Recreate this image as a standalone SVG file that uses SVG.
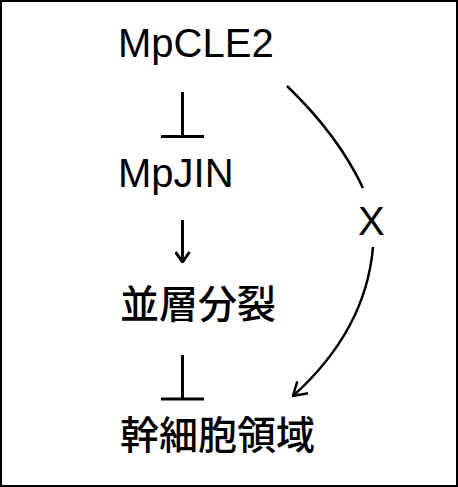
<svg xmlns="http://www.w3.org/2000/svg" width="458" height="487" viewBox="0 0 458 487">
<style>
.t{font-family:"Liberation Sans","Noto Sans CJK JP",sans-serif;font-size:40px;fill:#000}
.c{font-family:"Noto Sans CJK JP",sans-serif;font-size:39px;font-weight:500;fill:#000}
.l{stroke:#000;stroke-width:3;fill:none}
.cv{stroke:#000;stroke-width:2.5;fill:none}
</style>
<defs>
<marker id="ah" viewBox="0 0 12 16" refX="11" refY="8" markerWidth="12" markerHeight="16" markerUnits="userSpaceOnUse" orient="auto">
<path d="M1,1 L11,8 L1,15" fill="none" stroke="#000" stroke-width="3"/>
</marker>
<marker id="ah2" viewBox="0 0 16 20" refX="15" refY="10" markerWidth="16" markerHeight="20" markerUnits="userSpaceOnUse" orient="auto">
<path d="M2,2 L15,10 L2,18" fill="none" stroke="#000" stroke-width="2.5"/>
</marker>
</defs>
<rect x="1" y="1" width="456" height="485" fill="#fff" stroke="#000" stroke-width="2"/>
<g id="mpcle2"><text class="t" x="118" y="57">MpCLE2</text></g>
<g id="mpjin"><text class="t" x="118" y="187">MpJIN</text></g>
<g id="heisou"><text class="c" x="120" y="318">並層分裂</text></g>
<g id="kan"><text class="c" x="120" y="449">幹細胞領域</text></g>
<g id="x"><text class="t" x="358" y="235">X</text></g>
<g id="connectors">
<path class="l" d="M182.5,92 V136.5 M161,136.5 H204"/>
<path class="l" d="M182.5,220 V262" marker-end="url(#ah)"/>
<path class="l" d="M182.5,355 V399 M161,399 H204"/>
<path class="cv" d="M287,86 Q338,135 363,188"/>
<path class="cv" d="M373,247 Q366,330 293,396" marker-end="url(#ah2)"/>
</g>
</svg>
